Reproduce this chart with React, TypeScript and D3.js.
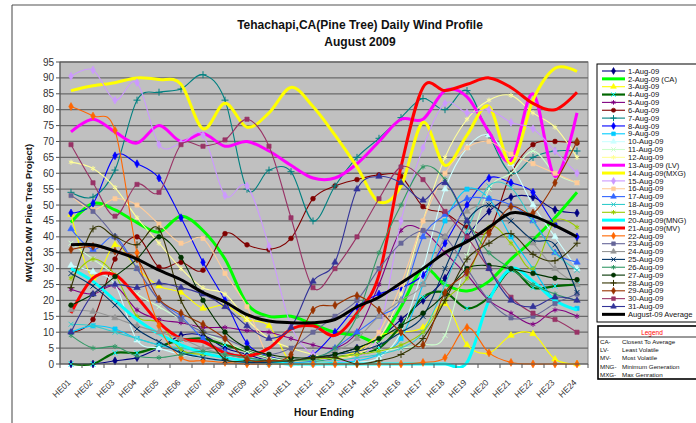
import * as d3 from "d3";

const W = 696;
const H = 423;
const PLOT = { left: 60, right: 588, top: 62, bottom: 364 };
const FONT = "'Liberation Sans', Arial, sans-serif";

const HOURS = [
  "HE01", "HE02", "HE03", "HE04", "HE05", "HE06", "HE07", "HE08",
  "HE09", "HE10", "HE11", "HE12", "HE13", "HE14", "HE15", "HE16",
  "HE17", "HE18", "HE19", "HE20", "HE21", "HE22", "HE23", "HE24",
];
const Y_TICKS = [0, 5, 10, 15, 20, 25, 30, 35, 40, 45, 50, 55, 60, 65, 70, 75, 80, 85, 90, 95];

// MW per hour ending
const AUG01 = [0, 0, 1, 2, 5, 9, 9, 5, 3, 1, 0.5, 1, 3, 5, 8, 14, 20, 27, 40, 48, 52.5, 52.5, 48.5, 47.5];
const AUG02 = [44.5, 50.5, 48.5, 44.5, 41.5, 46.5, 42, 33, 19, 15, 15, 12.5, 10, 9, 7.5, 18, 30, 25, 23, 26, 33, 39, 46, 54];
const AUG03 = [47, 27, 37.5, 30, 24.5, 22.5, 17.5, 18.5, 14, 12, 0.5, 1, 2, 4, 9, 10, 11.5, 19, 6, 3.5, 9, 9.5, 1.5, 0];
const AUG04 = [0, 0, 3.5, 3.5, 5.5, 7.5, 8, 6, 4, 2, 1, 1, 2, 3, 5, 12, 21, 22.5, 17.5, 21, 29.5, 24, 24.5, 25];
const AUG05 = [23.5, 22, 24.5, 17, 14, 13, 11.5, 11.5, 10.5, 10, 8, 6, 5, 10, 25, 42, 42, 35, 28, 20, 16, 12.5, 17, 15];
const AUG06 = [10, 14, 33, 40, 30.5, 32, 29.5, 41, 37.5, 36, 39.5, 52, 56, 58, 59.5, 59, 49.5, 47.5, 43, 42, 60, 69, 70, 69.5];
const AUG07 = [54, 52.5, 61, 83, 85.5, 86.5, 91, 83, 55, 61, 60.5, 45, 56, 65, 71, 77.5, 83.5, 80, 86, 72, 60, 65, 67, 67];
const AUG08 = [47.5, 50.5, 65.5, 63, 58.5, 46, 32, 20, 6.5, 2.5, 1, 3, 10, 18, 22, 24, 28, 38, 50, 58.5, 57, 54, 44, 40];
const AUG09 = [10, 12, 11, 8, 6, 4, 2, 1, 0.5, 0, 0, 0, 0.5, 1, 3, 8, 25, 45, 55, 52, 40, 30, 20, 17.5];
const AUG10 = [31, 29, 25, 7.5, 5, 3, 2, 1, 0.5, 0, 0, 0, 0, 0.5, 2, 10, 30, 55, 68, 72, 63, 50, 40, 30];
const AUG11 = [38, 33, 28, 22, 18, 14, 10, 7, 4, 2, 1, 1, 2, 3, 4, 5, 6, 9, 34, 55, 60, 67, 60, 57];
const AUG12 = [63.5, 61.5, 55.5, 46, 38, 30, 24, 22, 14, 8, 5, 3, 2, 3, 8, 22, 45, 65, 77, 83, 84.5, 79, 74.5, 65];
const AUG13 = [73, 77, 73, 69.5, 75, 70, 72.5, 68.5, 70, 67, 62.5, 58.5, 58.5, 63, 70, 77, 77, 86, 84, 73, 64, 85, 59, 79];
const AUG14 = [86, 87.5, 88.5, 90, 89.5, 88, 74, 82, 74.5, 79, 87, 81, 72, 62, 51, 56, 76, 62.5, 72, 81, 63, 83, 93, 92];
const AUG15 = [90.5, 92.5, 83, 88.5, 69, 69.5, 72, 53, 56, 37, 12, 3, 1, 2, 10, 45, 68, 82, 79, 80, 76, 74, 67, 60];
const AUG16 = [53, 48.5, 52, 50, 44, 38, 39.5, 28.5, 18, 2, 1, 0.5, 1, 3, 10, 25, 45, 60, 68, 70, 66, 63, 60, 57];
const AUG17 = [42.5, 36, 40, 30, 20, 15, 8, 4, 2, 1, 0.5, 1, 5, 10, 15, 20, 40, 47, 52, 52, 50, 45, 35, 32];
const AUG18 = [12.5, 12, 10, 8, 6, 5, 4, 3, 2, 1, 1, 1, 1, 2, 3, 5, 10, 25, 42, 56, 55.5, 45, 35, 29.5];
const AUG19 = [27, 33, 28, 15, 13, 4.5, 3, 2, 1, 1, 1, 1.5, 2, 3, 4, 6, 10, 20, 27, 43, 38, 30, 45, 43];
const AUG20 = [30, 26, 20, 14, 9.5, 6, 3.5, 2, 1, 0.5, 0, 0, 0, 0, 0, 0, 0, 0, 0.5, 20, 30, 26, 20, 17];
const AUG21 = [16, 27, 28, 21, 13, 8, 7, 3.5, 2.5, 5, 11, 12, 9, 16, 28, 62, 87, 86, 88, 90, 87, 82, 80, 85.5];
const AUG22 = [81, 78, 73.5, 35, 12, 2, 1, 0.5, 0, 0, 0, 0, 0, 0, 0, 0, 0.5, 2, 11.5, 3.5, 0.5, 0, 0, 0];
const AUG23 = [53, 48, 40, 30, 20, 14, 10, 8, 5, 3, 5, 10, 15, 20, 30, 38, 42, 40, 30, 20, 14.5, 15, 19, 22];
const AUG24 = [17, 16.5, 14.5, 12, 10, 8, 5, 3, 2, 1, 1, 2, 4, 8, 15, 20, 25, 40, 48, 50, 45, 38, 30, 25];
const AUG25 = [28.5, 24.5, 18.5, 11, 7, 3.5, 2, 1, 0.5, 0.5, 1, 2, 3, 4, 6, 10, 15, 30, 45, 50, 45, 39, 37.5, 22.5];
const AUG26 = [9, 5, 5.5, 2.5, 2, 3, 4, 3, 2, 1, 1, 2, 5, 15, 35, 50, 62, 58, 45, 35, 30, 25, 22, 20];
const AUG27 = [18.5, 22, 27.5, 33, 40, 33.5, 20, 10, 5, 3, 2, 2, 3, 5, 8, 12, 16, 22, 30, 31, 30, 28.5, 27, 26.5];
const AUG28 = [24, 42.5, 40, 37.5, 42.5, 20, 10, 1.5, 1, 1, 1, 2, 2, 0, 1, 3, 8, 20, 33, 38, 41, 34.5, 32.5, 38];
const AUG29 = [36, 37, 35.5, 33, 20.5, 16, 12.5, 8, 1.5, 1, 3, 17, 18.5, 21.5, 17, 10, 6, 22.5, 29, 41, 49.5, 47.5, 57, 70];
const AUG30 = [69, 57, 46.5, 56.5, 54, 69, 68.5, 70.5, 77, 68.5, 46, 24, 30, 40, 52, 62, 58, 48, 40, 30, 21, 16, 14, 10];
const AUG31 = [10, 22, 25, 24, 25.5, 24, 22, 18, 12, 8, 11.5, 26, 32, 55, 59, 57, 51.5, 57, 45, 30, 20, 18, 21, 20];
const AVERAGE = [37.5, 37.5, 35.5, 33, 29.5, 26.5, 22.5, 19.5, 15.5, 13.5, 13, 13, 14, 18, 21, 25.5, 30, 35, 38.5, 43, 47.5, 46.5, 43.5, 40];

const SERIES_NAMES = [
  "1-Aug-09", "2-Aug-09 (CA)", "3-Aug-09", "4-Aug-09", "5-Aug-09", "6-Aug-09",
  "7-Aug-09", "8-Aug-09", "9-Aug-09", "10-Aug-09", "11-Aug-09", "12-Aug-09",
  "13-Aug-09 (LV)", "14-Aug-09(MXG)", "15-Aug-09", "16-Aug-09", "17-Aug-09",
  "18-Aug-09", "19-Aug-09", "20-Aug-09(MNG)", "21-Aug-09(MV)", "22-Aug-09",
  "23-Aug-09", "24-Aug-09", "25-Aug-09", "26-Aug-09", "27-Aug-09", "28-Aug-09",
  "29-Aug-09", "30-Aug-09", "31-Aug-09", "August-09 Average",
];
const SERIES_VALUES = [
  AUG01, AUG02, AUG03, AUG04, AUG05, AUG06, AUG07, AUG08, AUG09, AUG10, AUG11,
  AUG12, AUG13, AUG14, AUG15, AUG16, AUG17, AUG18, AUG19, AUG20, AUG21, AUG22,
  AUG23, AUG24, AUG25, AUG26, AUG27, AUG28, AUG29, AUG30, AUG31, AVERAGE,
];

const NOTES = [
  ["CA-", "Closest To Average"],
  ["LV-", "Least Volatile"],
  ["MV-", "Most Volatile"],
  ["MNG-", "Minimum Generation"],
  ["MXG-", "Max Genration"],
];

type Marker = "diamond" | "square" | "triangle" | "x" | "star" | "circle" | "plus" | null;
type Style = { color: string; width: number; marker: Marker; markerColor?: string };

const CYCLE: Marker[] = ["diamond", "square", "triangle", "x", "star", "circle", "plus"];
const COLORS = [
  "#000080", "#00ff00", "#ffff00", "#006600", "#800080", "#800000", "#008080",
  "#0000ff", "#00ccff", "#ccffff", "#ccffcc", "#ffff99", "#ff00ff", "#ffff00",
  "#cc99ff", "#ffcc99", "#3366ff", "#33cccc", "#99cc00", "#00ffff", "#ff0000",
  "#ff6600", "#666699", "#969696", "#003366", "#339966", "#003300", "#333300",
  "#993300", "#993366", "#333399", "#000000",
];
const THICK = new Set([1, 12, 13, 19, 20, 31]);

const STYLES: Style[] = COLORS.map((color, i) => ({
  color,
  width: THICK.has(i) ? 3 : i === 3 ? 2.2 : 1.1,
  marker: THICK.has(i) ? null : CYCLE[i % CYCLE.length],
  markerColor: i === 3 ? "#00ffff" : undefined,
}));

const SYMBOLS: Record<string, d3.SymbolType> = {
  diamond: d3.symbolDiamond,
  square: d3.symbolSquare,
  triangle: d3.symbolTriangle,
  x: d3.symbolTimes,
  star: d3.symbolAsterisk,
  circle: d3.symbolCircle,
  plus: d3.symbolPlus,
};
const STROKE_ONLY = new Set(["x", "star", "plus"]);

function MarkerShape({ kind, color, x, y, size }: { kind: Marker; color: string; x: number; y: number; size: number }) {
  if (!kind) return null;
  const d = d3.symbol(SYMBOLS[kind], size)() ?? "";
  const open = STROKE_ONLY.has(kind);
  return (
    <path
      d={d}
      transform={`translate(${x},${y})`}
      fill={open ? "none" : color}
      stroke={color}
      strokeWidth={open ? 1 : 0.6}
    />
  );
}

export default function App() {
  const x = d3.scaleBand<string>().domain(HOURS).range([PLOT.left, PLOT.right]);
  const cx = (h: string) => (x(h) ?? 0) + x.bandwidth() / 2;
  const y = d3.scaleLinear().domain([0, 95]).range([PLOT.bottom, PLOT.top]);

  const line = d3
    .line<number>()
    .x((_, i) => cx(HOURS[i]))
    .y((v) => y(v))
    .curve(d3.curveCardinal.tension(0));

  const legendTop = 71;
  const legendStep = 7.85;

  return (
    <svg
      width={W}
      height={H}
      style={{ position: "absolute", left: 0, top: 0, background: "#fff", fontFamily: FONT }}
    >
      <defs>
        <clipPath id="plot-clip">
          <rect x={PLOT.left} y={PLOT.top - 2} width={PLOT.right - PLOT.left} height={PLOT.bottom - PLOT.top + 6} />
        </clipPath>
      </defs>

      {/* chart area frame */}
      <line x1={12} x2={W} y1={5} y2={5} stroke="#a8a8a8" strokeWidth={2} />
      <line x1={12} x2={12} y1={5} y2={H} stroke="#444" strokeWidth={1} />

      <text x={360} y={29} textAnchor="middle" fontSize={12} fontWeight="bold" fill="#111">
        Tehachapi,CA(Pine Tree) Daily Wind Profile
      </text>
      <text x={360} y={46} textAnchor="middle" fontSize={12} fontWeight="bold" fill="#111">
        August 2009
      </text>

      {/* plot area */}
      <rect
        x={PLOT.left}
        y={PLOT.top}
        width={PLOT.right - PLOT.left}
        height={PLOT.bottom - PLOT.top}
        fill="#c0c0c0"
        stroke="#808080"
      />
      {Y_TICKS.map((t) => (
        <g key={t}>
          {t > 0 && (
            <line x1={PLOT.left} x2={PLOT.right} y1={y(t)} y2={y(t)} stroke="#6a6a6a" strokeWidth={1.3} />
          )}
          <line x1={PLOT.left - 4} x2={PLOT.left} y1={y(t)} y2={y(t)} stroke="#555" />
          <text x={PLOT.left - 6} y={y(t)} dy="0.35em" textAnchor="end" fontSize={10} fill="#333">
            {t}
          </text>
        </g>
      ))}

      <g clipPath="url(#plot-clip)">
        {SERIES_VALUES.map((vals, i) => (
          <g key={SERIES_NAMES[i]}>
            <path d={line(vals) ?? ""} fill="none" stroke={STYLES[i].color} strokeWidth={STYLES[i].width} />
            {vals.map((v, j) => (
              <MarkerShape
                key={j}
                kind={STYLES[i].marker}
                color={STYLES[i].markerColor ?? STYLES[i].color}
                x={cx(HOURS[j])}
                y={y(v)}
                size={18}
              />
            ))}
          </g>
        ))}
      </g>

      {/* axes */}
      <line x1={PLOT.left} x2={PLOT.left} y1={PLOT.top} y2={PLOT.bottom} stroke="#555" />
      <line x1={PLOT.left} x2={PLOT.right} y1={PLOT.bottom} y2={PLOT.bottom} stroke="#555" />
      {HOURS.map((h) => (
        <g key={h}>
          <line x1={x(h) ?? 0} x2={x(h) ?? 0} y1={PLOT.bottom} y2={PLOT.bottom + 4} stroke="#555" />
          <text
            transform={`translate(${cx(h) - 2},${PLOT.bottom + 17}) rotate(-45)`}
            textAnchor="end"
            dy="0.35em"
            fontSize={8.5}
            fill="#333"
          >
            {h}
          </text>
        </g>
      ))}
      <line x1={PLOT.right} x2={PLOT.right} y1={PLOT.bottom} y2={PLOT.bottom + 4} stroke="#555" />

      <text x={(PLOT.left + PLOT.right) / 2} y={416} textAnchor="middle" fontSize={10} fontWeight="bold" fill="#111">
        Hour Ending
      </text>
      <text
        transform={`translate(32,${(PLOT.top + PLOT.bottom) / 2}) rotate(-90)`}
        textAnchor="middle"
        fontSize={9.5}
        fontWeight="bold"
        fill="#111"
      >
        MW(120 MW Pine Tree Project)
      </text>

      {/* series legend */}
      <rect x={597} y={64} width={140} height={258} fill="#fff" stroke="#000" />
      {SERIES_NAMES.map((name, i) => {
        const ly = legendTop + i * legendStep;
        return (
          <g key={name}>
            <line x1={602} x2={625} y1={ly} y2={ly} stroke={STYLES[i].color} strokeWidth={STYLES[i].width} />
            <MarkerShape
              kind={STYLES[i].marker}
              color={STYLES[i].markerColor ?? STYLES[i].color}
              x={613.5}
              y={ly}
              size={14}
            />
            <text x={628} y={ly} dy="0.35em" fontSize={7.6} fill="#111">
              {name}
            </text>
          </g>
        );
      })}

      {/* abbreviation legend */}
      <rect x={598} y={326} width={140} height={53} fill="#fff" stroke="#000" strokeWidth={1.6} />
      <text x={652} y={335} textAnchor="middle" fontSize={6.5} fill="#ff0000">
        Legend
      </text>
      <line x1={598} x2={W} y1={337} y2={337} stroke="#000" strokeWidth={0.8} />
      {NOTES.map(([abbr, desc], i) => (
        <g key={abbr} fontSize={6.2} fill="#111">
          <text x={600} y={343.5 + i * 8.4}>{abbr}</text>
          <text x={622} y={343.5 + i * 8.4}>{desc}</text>
        </g>
      ))}
    </svg>
  );
}
